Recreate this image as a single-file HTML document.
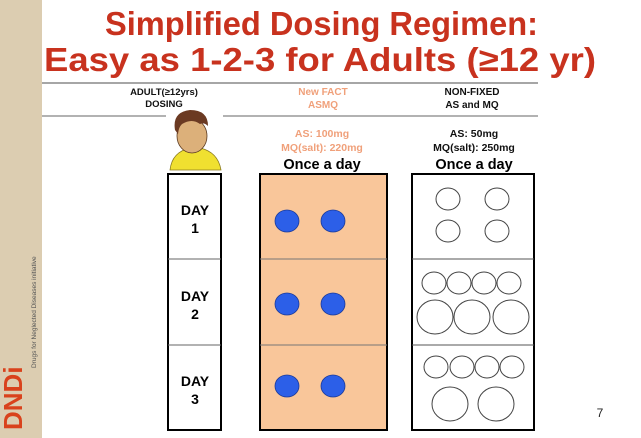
<!DOCTYPE html>
<html><head><style>
html,body{margin:0;padding:0;background:#fff;}
svg{display:block;}
text{font-family:"Liberation Sans",Arial,sans-serif;font-weight:bold;}
</style></head><body>
<svg width="641" height="438" viewBox="0 0 641 438" xmlns="http://www.w3.org/2000/svg">
<rect x="0" y="0" width="641" height="438" fill="#fff"/>
<rect x="0" y="0" width="42" height="438" fill="#dccdb1"/>
<text x="22" y="430" transform="rotate(-90 22 430)" font-size="26" fill="#d9421c">DNDi</text>
<text x="36" y="368" transform="rotate(-90 36 368)" font-size="6.5" fill="#555" style="font-weight:normal">Drugs for Neglected Diseases initiative</text>
<text x="105" y="35" font-size="33" fill="#c8321e" textLength="433" lengthAdjust="spacingAndGlyphs">Simplified Dosing Regimen:</text>
<text x="44" y="71" font-size="33" fill="#c8321e" textLength="552" lengthAdjust="spacingAndGlyphs">Easy as 1-2-3 for Adults (≥12 yr)</text>
<line x1="42" y1="83" x2="538" y2="83" stroke="#888" stroke-width="1.5"/>
<line x1="42" y1="116" x2="166" y2="116" stroke="#666" stroke-width="1"/>
<line x1="223" y1="116" x2="538" y2="116" stroke="#666" stroke-width="1"/>
<text x="164" y="95" text-anchor="middle" font-size="9.5" fill="#111">ADULT(≥12yrs)</text>
<text x="164" y="107" text-anchor="middle" font-size="9.5" fill="#111">DOSING</text>
<text x="323" y="95" text-anchor="middle" font-size="10" fill="#f0a07a">New FACT</text>
<text x="323" y="108" text-anchor="middle" font-size="10" fill="#f0a07a">ASMQ</text>
<text x="472" y="95" text-anchor="middle" font-size="10" fill="#111">NON-FIXED</text>
<text x="472" y="108" text-anchor="middle" font-size="10" fill="#111">AS and MQ</text>
<text x="322" y="137" text-anchor="middle" font-size="10.5" fill="#f0a07a">AS: 100mg</text>
<text x="322" y="151" text-anchor="middle" font-size="10.5" fill="#f0a07a">MQ(salt): 220mg</text>
<text x="474" y="137" text-anchor="middle" font-size="10.5" fill="#111">AS: 50mg</text>
<text x="474" y="151" text-anchor="middle" font-size="10.5" fill="#111">MQ(salt): 250mg</text>
<text x="322" y="169" text-anchor="middle" font-size="14.5" fill="#000">Once a day</text>
<text x="474" y="169" text-anchor="middle" font-size="14.5" fill="#000">Once a day</text>
<path d="M170 170 Q172 152 190 148 L200 148 Q218 152 221 170 Z" fill="#f0e030" stroke="#8a7a20" stroke-width="0.8"/>
<ellipse cx="192" cy="136" rx="15" ry="17" fill="#dcb07a" stroke="#5a3a20" stroke-width="0.8"/>
<path d="M175 130 Q172 112 190 110 Q208 110 208 126 Q204 122 200 124 Q192 118 182 124 Q179 126 178 134 Z" fill="#6b3a22"/>
<rect x="168" y="174" width="53" height="256" fill="#fff" stroke="#000" stroke-width="2"/>
<line x1="168" y1="259" x2="221" y2="259" stroke="#666"/>
<line x1="168" y1="345" x2="221" y2="345" stroke="#666"/>
<g font-size="14" text-anchor="middle" fill="#000">
<text x="195" y="215">DAY</text><text x="195" y="233">1</text>
<text x="195" y="301">DAY</text><text x="195" y="319">2</text>
<text x="195" y="386">DAY</text><text x="195" y="404">3</text>
</g>
<rect x="260" y="174" width="127" height="256" fill="#f9c69a" stroke="#000" stroke-width="2"/>
<line x1="260" y1="259" x2="387" y2="259" stroke="#777"/>
<line x1="260" y1="345" x2="387" y2="345" stroke="#777"/>
<g fill="#2c5fe8" stroke="#1a3a9a" stroke-width="0.8">
<ellipse cx="287" cy="221" rx="12" ry="11"/><ellipse cx="333" cy="221" rx="12" ry="11"/>
<ellipse cx="287" cy="304" rx="12" ry="11"/><ellipse cx="333" cy="304" rx="12" ry="11"/>
<ellipse cx="287" cy="386" rx="12" ry="11"/><ellipse cx="333" cy="386" rx="12" ry="11"/>
</g>
<rect x="412" y="174" width="122" height="256" fill="#fff" stroke="#000" stroke-width="2"/>
<line x1="412" y1="259" x2="534" y2="259" stroke="#555"/>
<line x1="412" y1="345" x2="534" y2="345" stroke="#555"/>
<g fill="none" stroke="#444" stroke-width="1">
<ellipse cx="448" cy="199" rx="12" ry="11"/><ellipse cx="497" cy="199" rx="12" ry="11"/>
<ellipse cx="448" cy="231" rx="12" ry="11"/><ellipse cx="497" cy="231" rx="12" ry="11"/>
<ellipse cx="434" cy="283" rx="12" ry="11"/><ellipse cx="459" cy="283" rx="12" ry="11"/><ellipse cx="484" cy="283" rx="12" ry="11"/><ellipse cx="509" cy="283" rx="12" ry="11"/>
<ellipse cx="435" cy="317" rx="18" ry="17"/><ellipse cx="472" cy="317" rx="18" ry="17"/><ellipse cx="511" cy="317" rx="18" ry="17"/>
<ellipse cx="436" cy="367" rx="12" ry="11"/><ellipse cx="462" cy="367" rx="12" ry="11"/><ellipse cx="487" cy="367" rx="12" ry="11"/><ellipse cx="512" cy="367" rx="12" ry="11"/>
<ellipse cx="450" cy="404" rx="18" ry="17"/><ellipse cx="496" cy="404" rx="18" ry="17"/>
</g>
<text x="600" y="417" text-anchor="middle" font-size="12" fill="#222" style="font-weight:normal">7</text>
</svg>
</body></html>
